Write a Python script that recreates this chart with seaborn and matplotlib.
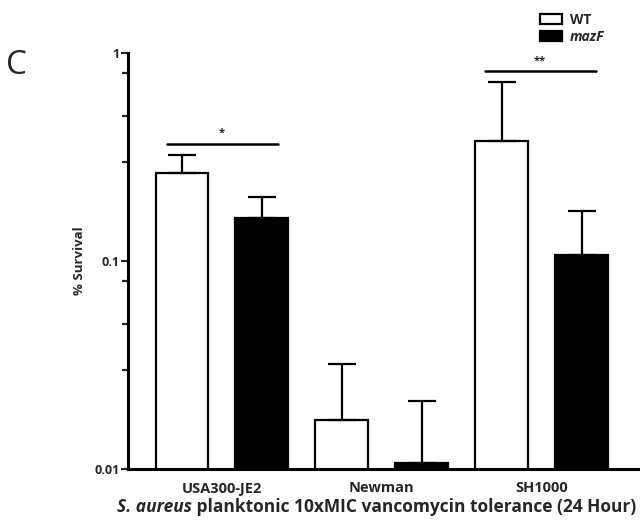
import numpy as np
import pandas as pd
import matplotlib
matplotlib.use("Agg")
import matplotlib.pyplot as plt
import seaborn as sns
from matplotlib.patches import Patch
from matplotlib.ticker import FixedLocator, NullFormatter

strains = ["USA300-JE2", "Newman", "SH1000"]
genotypes = ["WT", "mazF"]
wt_mean = [0.265, 0.0172, 0.377]
wt_upper = [0.323, 0.032, 0.726]
mazf_mean = [0.161, 0.0107, 0.107]
mazf_upper = [0.203, 0.0212, 0.174]
y_ticks = [0.01, 0.1, 1]
y_ticklabels = ["0.01", "0.1", "1"]
minor_ticks = [0.03, 0.05, 0.08, 0.3, 0.5, 0.8]

sns.set_theme(style="ticks")
plt.rcParams["font.family"] = ["Open Sans", "DejaVu Sans"]

df = pd.DataFrame({
    "strain": strains * 2,
    "genotype": ["WT"] * 3 + ["mazF"] * 3,
    "survival": wt_mean + mazf_mean,
    "upper": wt_upper + mazf_upper,
})

fig = plt.figure(figsize=(6.44, 5.26), dpi=100)
ax = fig.add_axes([128 / 644, 1 - 469 / 526, 510 / 644, (469 - 53) / 526])

sns.barplot(data=df, x="strain", y="survival", hue="genotype",
            order=strains, hue_order=genotypes,
            palette={"WT": "white", "mazF": "black"},
            edgecolor="black", linewidth=1.6, width=1.0, gap=0.34,
            errorbar=None, legend=False, ax=ax)

ax.set_yscale("log")
ax.set_ylim(0.01, 1)
ax.set_xlim(-0.5875, 2.603)

# error bars (upper only) at bar centres
bars = [p for p in ax.patches]
for gi, g in enumerate(genotypes):
    sub = df[df.genotype == g].set_index("strain").loc[strains]
    for si, s in enumerate(strains):
        p = bars[gi * len(strains) + si]
        xc = p.get_x() + p.get_width() / 2
        m = sub.loc[s, "survival"]
        u = sub.loc[s, "upper"]
        ax.errorbar([xc], [m], yerr=[[0], [u - m]], fmt="none",
                    ecolor="black", elinewidth=1.6, capsize=10, capthick=1.6,
                    zorder=1)

# significance bars
ax.plot([-0.344, 0.35], [0.365, 0.365], color="black", lw=1.8, clip_on=False)
ax.text(0.0, 0.385, "*", ha="center", va="bottom", fontsize=8, fontweight="bold")
ax.plot([1.647, 2.34], [0.819, 0.819], color="black", lw=1.8, clip_on=False)
ax.text(1.99, 0.86, "**", ha="center", va="bottom", fontsize=8, fontweight="bold")

# axes styling
for side in ["top", "right"]:
    ax.spines[side].set_visible(False)
for side in ["left", "bottom"]:
    ax.spines[side].set_linewidth(2.2)
    ax.spines[side].set_color("black")
ax.yaxis.set_major_locator(FixedLocator(y_ticks))
ax.set_yticklabels(y_ticklabels)
ax.yaxis.set_minor_locator(FixedLocator(minor_ticks))
ax.yaxis.set_minor_formatter(NullFormatter())
ax.tick_params(axis="y", which="major", length=5, width=1.6, labelsize=9, pad=1)
ax.tick_params(axis="y", which="minor", length=4, width=1.6)
ax.tick_params(axis="x", length=0, labelsize=10.5, pad=9)
for lab in ax.get_yticklabels() + ax.get_xticklabels():
    lab.set_fontweight("bold")

ax.set_ylabel("% Survival", fontsize=9.5, fontweight="bold", labelpad=6)
ax.set_xlabel("")

# x axis title: italic part + regular bold part
t1 = fig.text(117 / 644, 1 - 507 / 526, "S. aureus", fontsize=12.5,
              fontweight="bold", fontstyle="italic", va="center", ha="left")
fig.canvas.draw()
ax.annotate(" planktonic 10xMIC vancomycin tolerance (24 Hour)",
            xy=(1, 0.5), xycoords=t1, va="center", ha="left",
            fontsize=12.5, fontweight="bold")

# panel letter
fig.text(6 / 644, 1 - 65 / 526, "C", fontsize=24, va="center", ha="left")

# legend
handles = [Patch(facecolor="white", edgecolor="black", linewidth=1.6, label="WT"),
           Patch(facecolor="black", edgecolor="black", linewidth=1.6, label="mazF")]
leg = fig.legend(handles=handles, loc="upper left",
                 bbox_to_anchor=(527 / 644, 1 - 0 / 526), frameon=False,
                 fontsize=10, handlelength=1.6, handleheight=0.75,
                 handletextpad=0.6, labelspacing=0.25)
texts = leg.get_texts()
texts[0].set_fontweight("bold")
texts[1].set_fontweight("bold")
texts[1].set_fontstyle("italic")

fig.savefig("out.png", dpi=100)
